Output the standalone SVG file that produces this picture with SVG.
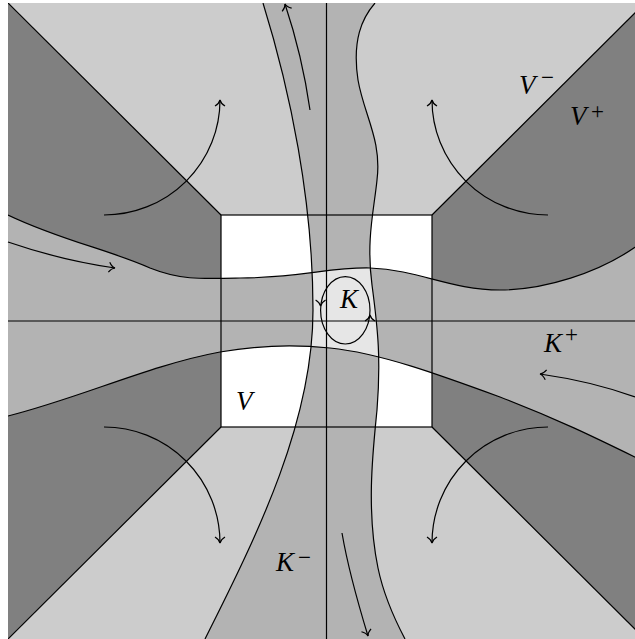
<svg xmlns="http://www.w3.org/2000/svg" width="635" height="639" viewBox="0 0 635 639">
  <style>
    .ln { fill: none; stroke: #000; stroke-width: 1.2; }
    .arr { fill: none; stroke: #000; stroke-width: 1.2; marker-end: url(#tip); }
    .lab { font-family: "Liberation Serif", "DejaVu Serif", serif; font-style: italic; font-size: 27px; fill: #000; }
    .sup { font-family: "Liberation Serif", "DejaVu Serif", serif; font-size: 23px; fill: #000; }
  </style>
  <defs>
    <marker id="tip" markerUnits="userSpaceOnUse" viewBox="-8 -7 10 14" refX="0" refY="0" markerWidth="10" markerHeight="14" orient="auto" overflow="visible">
      <path d="M-6,-5 C-4,-1.8 -1.8,-0.4 0,0 C-1.8,0.4 -4,1.8 -6,5" fill="none" stroke="#000" stroke-width="1.2"/>
    </marker>
    <path id="tipShape" d="M-6,-5 C-4,-1.8 -1.8,-0.4 0,0 C-1.8,0.4 -4,1.8 -6,5" fill="none" stroke="#000" stroke-width="1.2"/>
    <path id="hband" d="M8,215 C60,240 110,250 150,268 C180,280 200,279 240,278 C300,278 330,267 370,268 C420,270 450,290 500,290 C540,290 600,275 645,240 L645,462 C600,440 560,420 500,397 C440,375 380,353 330,348 C300,345 260,345 220,352 C150,365 80,398 8,416 Z"/>
    <path id="vband" d="M263,3 C290,90 313,200 313,310 C313,420 260,530 205,639 L405,639 C395,620 384,597 378,568 C366,510 373,450 377,410 C381,360 378,330 372,285 C366,240 374,210 377,180 C382,140 364,115 358,80 C352,40 362,18 375,3 Z"/>
    <clipPath id="frame"><rect x="8" y="3" width="637" height="636"/></clipPath>
    <clipPath id="hclip"><use href="#hband"/></clipPath>
  </defs>

  <g id="regions" clip-path="url(#frame)">
    <rect x="8" y="3" width="637" height="636" fill="#cccccc"/>
    <polygon points="8,3 221,215 221,427 8,639" fill="#808080"/>
    <polygon points="645,3 432,215 432,427 645,639" fill="#808080"/>
    <rect x="221" y="215" width="211" height="212" fill="#ffffff"/>
    <use href="#hband" fill="#b3b3b3"/>
    <use href="#vband" fill="#b3b3b3"/>
    <use href="#vband" fill="#e6e6e6" clip-path="url(#hclip)"/>
  </g>

  <g id="lines" clip-path="url(#frame)">
    <line class="ln" x1="8" y1="3" x2="221" y2="215"/>
    <line class="ln" x1="645" y1="3" x2="432" y2="215"/>
    <line class="ln" x1="8" y1="639" x2="221" y2="427"/>
    <line class="ln" x1="645" y1="639" x2="432" y2="427"/>
    <rect class="ln" x="221" y="215" width="211" height="212"/>
    <line class="ln" x1="8" y1="321" x2="645" y2="321"/>
    <line class="ln" x1="326.5" y1="3" x2="326.5" y2="639"/>
    <path class="ln" d="M8,215 C60,240 110,250 150,268 C180,280 200,279 240,278 C300,278 330,267 370,268 C420,270 450,290 500,290 C540,290 600,275 645,240"/>
    <path class="ln" d="M8,416 C80,398 150,365 220,352 C260,345 300,345 330,348 C380,353 440,375 500,397 C560,420 600,440 645,462"/>
    <path class="ln" d="M263,3 C290,90 313,200 313,310 C313,420 260,530 205,639"/>
    <path class="ln" d="M375,3 C362,18 352,40 358,80 C364,115 382,140 377,180 C374,210 366,240 372,285 C378,330 381,360 377,410 C373,450 366,510 378,568 C384,597 395,620 405,639"/>
  </g>

  <g id="connectors">
    <path class="arr" d="M104,215 A116,115 0 0 0 220,100"/>
    <path class="arr" d="M548,215 A116,115 0 0 1 432,100"/>
    <path class="arr" d="M104,427 A116,116 0 0 1 220,543"/>
    <path class="arr" d="M548,427 A116,116 0 0 0 432,543"/>
    <path class="arr" d="M8,242 C40,253 80,263 115,268"/>
    <path class="arr" d="M310,110 C305,75 297,40 285,4"/>
    <path class="arr" d="M635,397 C605,386 575,379 540,374"/>
    <path class="arr" d="M342,533 C348,568 357,600 368,636"/>
  </g>

  <g id="K-loop">
    <ellipse class="ln" cx="345.3" cy="310.3" rx="24.7" ry="33.7"/>
    <use href="#tipShape" transform="translate(320.6,306) rotate(90)"/>
    <use href="#tipShape" transform="translate(370,315) rotate(-90)"/>
  </g>

  <g id="labels">
    <text class="lab" x="519" y="94">V</text>
    <text class="sup" x="541" y="85">−</text>
    <text class="lab" x="570" y="125">V</text>
    <text class="sup" x="591" y="118.5">+</text>
    <text class="lab" x="544" y="352">K</text>
    <text class="sup" x="565" y="341.5">+</text>
    <text class="lab" x="276" y="571">K</text>
    <text class="sup" x="298" y="565">−</text>
    <text class="lab" x="340" y="308">K</text>
    <text class="lab" x="236" y="410">V</text>
  </g>
</svg>
